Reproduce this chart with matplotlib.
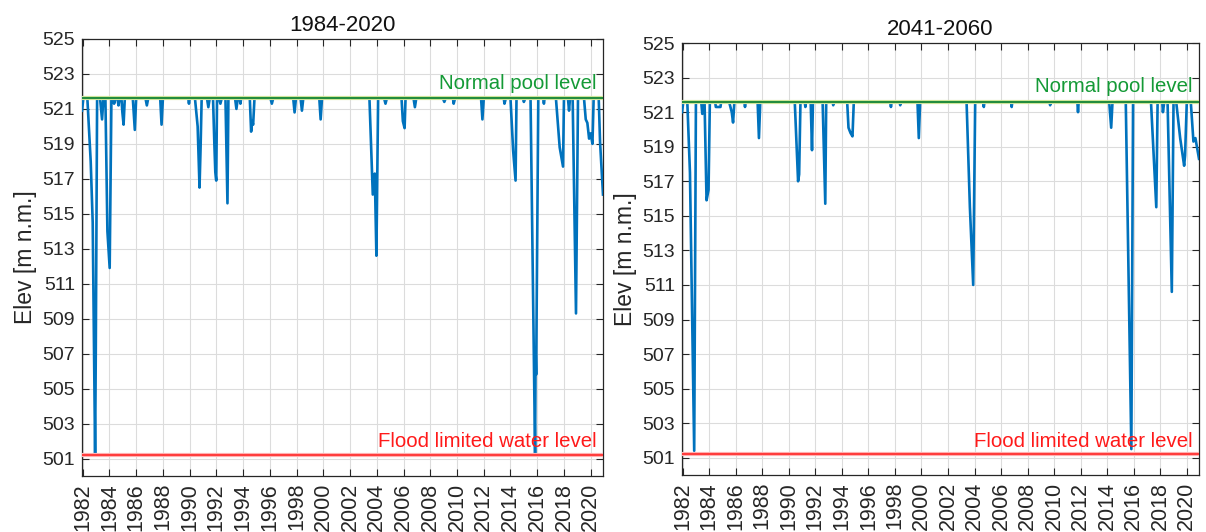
import matplotlib.pyplot as plt
import numpy as np

plt.rcParams['font.family'] = ['Liberation Sans', 'DejaVu Sans']

# reservoir elevation, 1984-2020 run (decimal year, m n.m.)
t_hist = [1981.95, 1982.05, 1982.35, 1982.6, 1982.75, 1982.93, 1982.98, 1983.08,
          1983.3, 1983.45, 1983.55, 1983.7, 1983.85, 1984.02, 1984.15,
          1984.3, 1984.35, 1984.45, 1984.6, 1984.68, 1984.75, 1984.9, 1984.97, 1985.06, 1985.15,
          1985.75, 1985.9, 1986.0, 1986.7, 1986.8, 1986.9, 1987.8, 1987.9, 1988.0,
          1989.9, 1989.95, 1990.0, 1990.4, 1990.6, 1990.74, 1990.82, 1990.9,
          1991.3, 1991.4, 1991.5, 1991.75, 1991.85, 1991.92, 1991.99, 1992.05,
          1992.2, 1992.3, 1992.4, 1992.68, 1992.83, 1992.9, 1993.4, 1993.5, 1993.6,
          1993.75, 1993.8, 1993.85, 1994.5, 1994.6, 1994.68, 1994.75, 1994.85,
          1996.05, 1996.15, 1996.25, 1997.75, 1997.85, 1997.95, 1998.3, 1998.4, 1998.5,
          1999.7, 1999.8, 1999.9, 2003.45, 2003.7, 2003.85, 2003.97, 2004.1,
          2004.55, 2004.65, 2004.75, 2005.85, 2005.95, 2006.08, 2006.15,
          2006.75, 2006.85, 2006.95, 2008.95, 2009.05, 2009.15, 2009.7, 2009.75, 2009.85,
          2011.8, 2011.9, 2012.0, 2013.5, 2013.55, 2013.65, 2014.0, 2014.2, 2014.38, 2014.45,
          2014.95, 2015.0, 2015.1, 2015.5, 2015.84, 2015.88, 2015.92, 2016.08,
          2016.45, 2016.5, 2016.55, 2017.4, 2017.68, 2017.93, 2018.0,
          2018.3, 2018.38, 2018.45, 2018.65, 2018.9, 2019.05,
          2019.5, 2019.63, 2019.75, 2019.88, 2020.0, 2020.13, 2020.22,
          2020.6, 2020.7, 2020.92]
h_hist = [520.9, 521.6, 521.6, 518.0, 514.5, 501.3, 507.0, 521.6,
          521.6, 520.4, 521.6, 521.6, 514.0, 511.9, 521.6,
          521.6, 521.3, 521.6, 521.6, 521.2, 521.6, 521.6, 520.8, 520.1, 521.6,
          521.6, 519.8, 521.6, 521.6, 521.2, 521.6, 521.6, 520.1, 521.6,
          521.6, 521.3, 521.6, 521.6, 520.0, 516.5, 518.8, 521.6,
          521.6, 521.1, 521.6, 521.6, 519.0, 517.4, 516.9, 521.6,
          521.6, 521.3, 521.6, 521.6, 515.6, 521.6, 521.6, 521.0, 521.6,
          521.6, 521.3, 521.6, 521.6, 519.7, 520.3, 520.1, 521.6,
          521.6, 521.3, 521.6, 521.6, 520.8, 521.6, 521.6, 520.9, 521.6,
          521.6, 520.4, 521.6, 521.6, 516.1, 517.3, 512.6, 521.6,
          521.6, 521.3, 521.6, 521.6, 520.3, 519.9, 521.6,
          521.6, 521.1, 521.6, 521.6, 521.4, 521.6, 521.6, 521.3, 521.6,
          521.6, 520.4, 521.6, 521.6, 521.3, 521.6, 521.6, 518.6, 516.9, 521.6,
          521.6, 521.4, 521.6, 521.6, 501.3, 507.2, 505.8, 521.6,
          521.6, 521.3, 521.6, 521.6, 518.8, 517.7, 521.6,
          521.6, 520.9, 521.6, 521.6, 509.3, 521.6,
          521.6, 520.4, 520.2, 519.3, 519.6, 519.0, 521.6,
          521.6, 519.1, 516.1]

# reservoir elevation, 2041-2060 run
t_fut = [1981.95, 1982.05, 1982.35, 1982.55, 1982.87, 1983.0,
         1983.4, 1983.48, 1983.55, 1983.65, 1983.8, 1983.95, 1984.05,
         1984.45, 1984.5, 1984.85, 1984.9, 1985.5, 1985.7, 1985.8, 1985.9,
         1986.65, 1986.7, 1986.75, 1987.65, 1987.75, 1987.85,
         1990.45, 1990.7, 1990.78, 1990.88, 1991.2, 1991.25, 1991.3,
         1991.65, 1991.75, 1991.82, 1992.55, 1992.75, 1992.82,
         1993.3, 1993.35, 1993.4, 1994.4, 1994.5, 1994.65, 1994.8, 1994.9,
         1997.65, 1997.7, 1997.75, 1998.35, 1998.4, 1998.45, 1999.7, 1999.8, 1999.9,
         2003.4, 2003.65, 2003.9, 2004.05, 2004.65, 2004.7, 2004.75,
         2006.75, 2006.8, 2006.85, 2009.65, 2009.7, 2009.75, 2011.75, 2011.8, 2011.85,
         2014.15, 2014.3, 2014.4, 2015.4, 2015.82, 2015.95,
         2017.3, 2017.7, 2017.8, 2018.15, 2018.2, 2018.3,
         2018.55, 2018.87, 2019.0, 2019.2, 2019.5, 2019.8, 2019.87, 2020.0,
         2020.3, 2020.5, 2020.65, 2020.92]
h_fut = [521.0, 521.6, 521.6, 517.5, 501.4, 521.6,
         521.6, 520.9, 521.6, 521.6, 515.9, 516.5, 521.6,
         521.6, 521.3, 521.3, 521.6, 521.6, 521.0, 520.4, 521.6,
         521.6, 521.3, 521.6, 521.6, 519.5, 521.6,
         521.6, 517.0, 517.4, 521.6, 521.6, 521.3, 521.6,
         521.6, 518.8, 521.6, 521.6, 515.7, 521.6,
         521.6, 521.4, 521.6, 521.6, 520.1, 519.8, 519.6, 521.6,
         521.6, 521.3, 521.6, 521.6, 521.4, 521.6, 521.6, 519.5, 521.6,
         521.6, 515.5, 511.0, 521.6, 521.6, 521.3, 521.6,
         521.6, 521.3, 521.6, 521.6, 521.4, 521.6, 521.6, 521.0, 521.6,
         521.6, 520.1, 521.6, 521.6, 501.5, 521.6,
         521.6, 515.5, 521.6, 521.6, 521.0, 521.6,
         521.6, 510.6, 521.6, 521.6, 519.5, 517.9, 518.5, 521.6,
         521.6, 519.3, 519.5, 518.3]

normal_pool = 521.6
flood_limit = 501.2
titles = ["1984-2020", "2041-2060"]
year_ticks = np.arange(1982, 2021, 2)
elev_ticks = np.arange(501, 526, 2)

fig = plt.figure(figsize=(12.06, 5.32), dpi=100)
ax1 = fig.add_axes([0.068, 0.1053, 0.432, 0.8214])
ax2 = fig.add_axes([0.5655, 0.1071, 0.4287, 0.812])

for ax, t, h, title in [(ax1, t_hist, h_hist, titles[0]), (ax2, t_fut, h_fut, titles[1])]:
    ax.plot(t, h, color='#0072BD', lw=1.9, zorder=3)
    ax.axhline(normal_pool, color='#cfe59a', lw=3.0, zorder=4)
    ax.axhline(normal_pool, color='#1f8a3c', lw=1.4, zorder=5)
    ax.axhline(flood_limit, color='#ffb0b0', lw=3.0, zorder=4)
    ax.axhline(flood_limit, color='#ff1a1a', lw=1.1, zorder=5)
    ax.text(2020.45, 522.15, "Normal pool level", color='#149a36', fontsize=14.7,
            ha='right', va='baseline', zorder=6)
    ax.text(2020.45, 501.65, "Flood limited water level", color='#ff1a1a', fontsize=14.7,
            ha='right', va='baseline', zorder=6)

    ax.set_xlim(1981.95, 2020.92)
    ax.set_ylim(500, 525)
    ax.set_xticks(year_ticks)
    ax.set_xticklabels([str(y) for y in year_ticks], rotation=90, fontsize=15.5)
    ax.set_yticks(elev_ticks)
    ax.set_yticklabels([str(e) for e in elev_ticks], fontsize=14)
    ax.tick_params(direction='in', top=True, right=True, length=5, width=0.8,
                   colors='#262626', pad=5)
    ax.grid(True, color='#dcdcdc', lw=0.8)
    ax.set_axisbelow(True)
    for s in ax.spines.values():
        s.set_color('#262626')
        s.set_linewidth(0.9)
    ax.set_ylabel("Elev [m n.m.]", fontsize=16.5, color='#262626', labelpad=4)
    ax.set_title(title, fontsize=16, color='#111111', pad=6)

fig.savefig('out.png', dpi=100)
